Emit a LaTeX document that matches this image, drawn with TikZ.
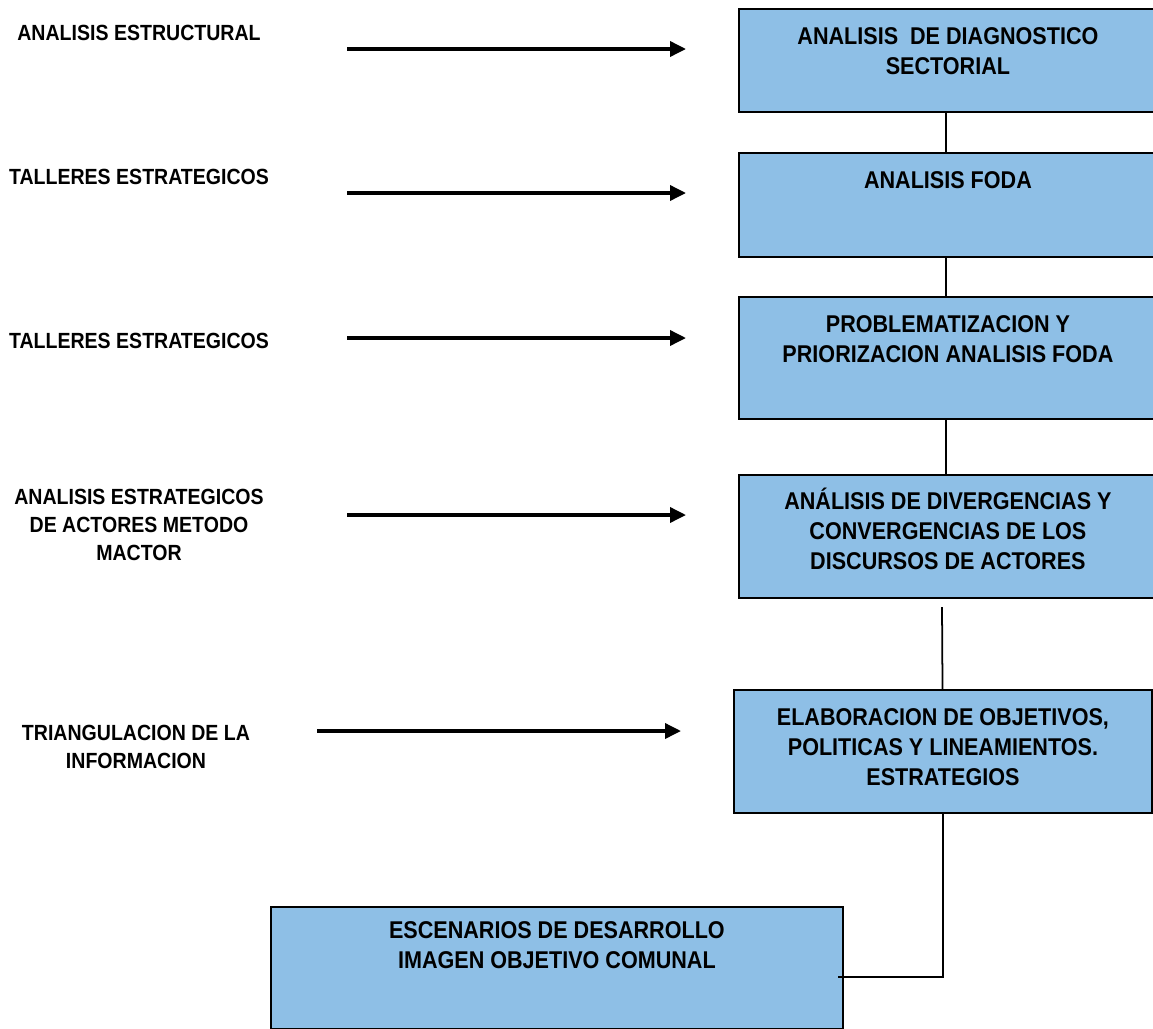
\documentclass[tikz,border=0pt]{standalone}
\usepackage{fontspec}
\setmainfont[FakeStretch=0.89]{Liberation Sans}
\usetikzlibrary{arrows.meta, positioning, calc}
\definecolor{boxblue}{RGB}{142,191,230}
\tikzset{
    stage/.style={draw, fill=boxblue, line width=1.1pt, anchor=north west, inner sep=0pt},
    stagetext/.style={anchor=north, yshift=#1, inner sep=0pt, align=center,
      font=\bfseries\fontsize{13.8}{17.1}\selectfont},
    stagetext/.default=-0.38cm,
    source/.style={align=center, inner sep=0pt, font=\bfseries\fontsize{12.5}{15.9}\selectfont},
    feed/.style={-{Triangle[length=0.32cm, width=0.3cm]}, line width=2pt},
    link/.style={line width=1pt},
}

\begin{document}
\begin{tikzpicture}[x=0.02cm, y=-0.02cm]
    \useasboundingbox (0,0) rectangle (1153,1028);

    % etapas
    \node[stage, minimum width=8.46cm, minimum height=2.06cm,
      label={[stagetext, xshift=-0.05cm]north:{ANALISIS\ \ DE DIAGNOSTICO\\SECTORIAL}}] (diag) at (738,8) {};
    \node[stage, minimum width=8.46cm, minimum height=2.08cm,
      label={[stagetext, xshift=-0.05cm]north:{ANALISIS FODA}}] (foda) at (738,152) {};
    \node[stage, minimum width=8.46cm, minimum height=2.44cm,
      label={[stagetext, xshift=-0.05cm]north:{PROBLEMATIZACION Y\\PRIORIZACION ANALISIS FODA}}] (prob) at (738,296) {};
    \node[stage, minimum width=8.46cm, minimum height=2.46cm,
      label={[stagetext=-0.28cm, xshift=-0.05cm]north:{ANÁLISIS DE DIVERGENCIAS Y\\CONVERGENCIAS DE LOS\\DISCURSOS DE ACTORES}}] (diverg) at (738,474) {};
    \node[stage, minimum width=8.36cm, minimum height=2.46cm,
      label={[stagetext]north:{ELABORACION DE OBJETIVOS,\\POLITICAS Y LINEAMIENTOS.\\ESTRATEGIOS}}] (objet) at (733,689) {};
    \node[stage, minimum width=11.44cm, minimum height=2.44cm,
      label={[stagetext=-0.30cm]north:{ESCENARIOS DE DESARROLLO\\IMAGEN OBJETIVO COMUNAL}}] (escen) at (270,906) {};

    % metodos
    \node[source] (estruct) at (139,33) {ANALISIS ESTRUCTURAL};
    \node[source] (talleres) at (139,177) {TALLERES ESTRATEGICOS};
    \node[source] (talleresb) at (139,341) {TALLERES ESTRATEGICOS};
    \node[source] (mactor) at (139,525) {ANALISIS ESTRATEGICOS\\DE ACTORES METODO\\MACTOR};
    \node[source] (triang) at (136,747) {TRIANGULACION DE LA\\INFORMACION};

    \coordinate (estructA) at (347,49);  \coordinate (estructB) at (686,49);
    \coordinate (talleresA) at (347,193); \coordinate (talleresB) at (686,193);
    \coordinate (talleresbA) at (347,338); \coordinate (talleresbB) at (686,338);
    \coordinate (mactorA) at (347,515);  \coordinate (mactorB) at (686,515);
    \coordinate (triangA) at (317,731);  \coordinate (triangB) at (681,731);

    \draw[feed] (estructA) -- (estructB);
    \draw[feed] (talleresA) -- (talleresB);
    \draw[feed] (talleresbA) -- (talleresbB);
    \draw[feed] (mactorA) -- (mactorB);
    \draw[feed] (triangA) -- (triangB);

    % conexiones
    \coordinate (divergGap) at (942,607);
    \coordinate (escenIn) at (838,977);
    \draw[link] (diag.south -| 946,0) -- (foda.north -| 946,0);
    \draw[link] (foda.south -| 946,0) -- (prob.north -| 946,0);
    \draw[link] (prob.south -| 946,0) -- (diverg.north -| 946,0);
    \draw[link] (divergGap) -- (objet);
    \draw[link] (objet.south) |- (escenIn);
\end{tikzpicture}
\end{document}
